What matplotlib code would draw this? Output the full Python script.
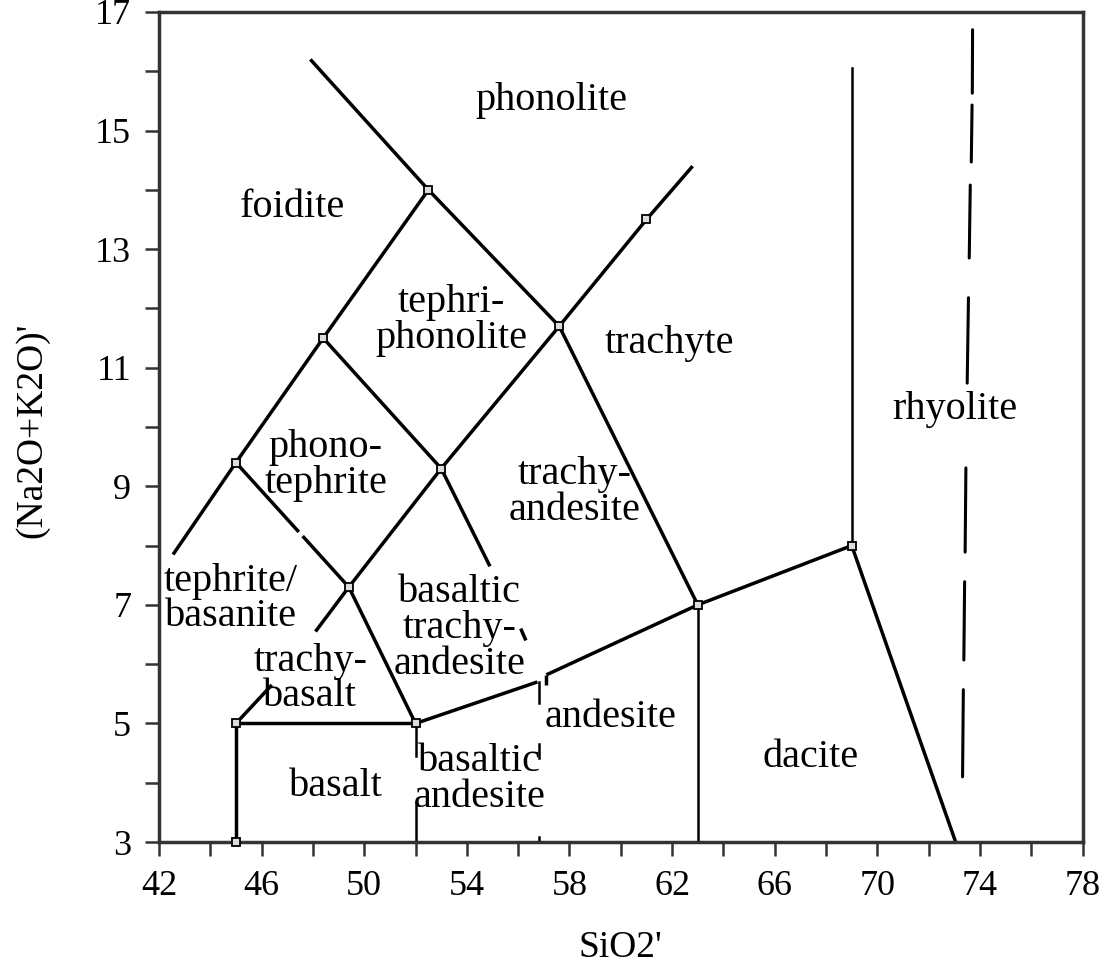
import numpy as np
import matplotlib.pyplot as plt

plt.rcParams['font.family'] = ['Liberation Serif', 'DejaVu Serif']

# boundary lines of the TAS diagram, (SiO2', Na2O+K2O')
foid_phon_x = [47.9, 52.5, 57.6, 63.0]
foid_phon_y = [16.2, 14.0, 11.7, 7.0]
foid_left_x = [52.5, 48.4, 45.0, 42.55]
foid_left_y = [14.0, 11.5, 9.4, 7.85]
tp_pt_x = [48.4, 53.0, 54.9]
tp_pt_y = [11.5, 9.3, 7.65]
bta_tick_x = [56.1, 56.3]
bta_tick_y = [6.6, 6.4]
trachy_x = [62.8, 61.0, 57.6, 53.0, 49.4, 48.1]
trachy_y = [14.4, 13.5, 11.7, 9.3, 7.3, 6.55]
tb_x = [46.4, 45.0]
tb_y = [5.65, 5.0]
pt_tb_a_x = [45.0, 47.45]
pt_tb_a_y = [9.4, 8.23]
pt_tb_b_x = [47.6, 49.4, 52.0]
pt_tb_b_y = [8.16, 7.3, 5.0]
basalt_x = [45.0, 45.0, 52.0]
basalt_y = [3.0, 5.0, 5.0]
v52_segs = [(5.0, 4.45), (3.67, 3.0)]
ba_top_x = [52.0, 56.75]
ba_top_y = [5.0, 5.7]
v57_segs = [(5.7, 5.35), (4.65, 4.42), (3.08, 3.0)]
and_top_x = [57.1, 63.0, 69.0]
and_top_y = [5.82, 7.0, 8.0]
and_tick_x = [57.1, 57.1]
and_tick_y = [5.82, 5.65]
v63_x = [63.0, 63.0]
v63_y = [7.0, 3.0]
v69_x = [69.0, 69.0]
v69_y = [16.05, 8.0]
dacite_x = [69.0, 73.05]
dacite_y = [8.0, 3.0]

# rhyolite dashed boundary: (x_top, y_top, x_bottom, y_bottom)
rhy_dashes = [(73.71, 16.70, 73.70, 15.63), (73.69, 15.43, 73.66, 14.47),
              (73.62, 14.08, 73.58, 12.85), (73.55, 12.18, 73.50, 10.74),
              (73.45, 9.31, 73.42, 7.89), (73.40, 7.39, 73.37, 6.07),
              (73.35, 5.57, 73.32, 4.10)]

# corner points
pts_x = [45.0, 45.0, 52.0, 63.0, 69.0, 49.4, 45.0, 53.0, 48.4, 52.5, 57.6, 61.0]
pts_y = [3.0, 5.0, 5.0, 7.0, 8.0, 7.3, 9.4, 9.3, 11.5, 14.0, 11.7, 13.5]

# field names
labels = ['phonolite', 'foidite', 'tephri-\nphonolite', 'trachyte', 'rhyolite',
          'phono-\ntephrite', 'trachy-\nandesite', 'tephrite/\nbasanite',
          'basaltic\ntrachy-\nandesite', 'trachy-\nbasalt', 'andesite', 'dacite',
          'basalt', 'basaltic\nandesite']
label_x = [57.3, 47.2, 53.4, 61.9, 73.0, 48.5, 58.2, 44.8, 53.7, 47.9, 59.6, 67.4, 48.9, 54.5]
label_y = [15.5, 13.7, 11.8, 11.4, 10.3, 9.35, 8.9, 7.1, 6.6, 5.75, 5.1, 4.42, 3.93, 4.05]

xticks = np.arange(42, 79, 4)
yticks = np.arange(3, 18, 2)

fig = plt.figure(figsize=(11.07, 9.73), dpi=100)
ax = fig.add_axes([0.1436, 0.1346, 0.8344, 0.8531])

lw = 2.5
kw = dict(color='black', lw=lw, solid_capstyle='butt')
for xs, ys in [(foid_phon_x, foid_phon_y), (foid_left_x, foid_left_y),
               (tp_pt_x, tp_pt_y), (bta_tick_x, bta_tick_y),
               (trachy_x, trachy_y), (tb_x, tb_y),
               (pt_tb_a_x, pt_tb_a_y), (pt_tb_b_x, pt_tb_b_y),
               (basalt_x, basalt_y), (ba_top_x, ba_top_y),
               (and_top_x, and_top_y), (and_tick_x, and_tick_y),
               (dacite_x, dacite_y)]:
    ax.plot(xs, ys, **kw)
ax.plot(v63_x, v63_y, color='black', lw=1.8)
ax.plot(v69_x, v69_y, color='black', lw=1.8)
for y0, y1 in v52_segs:
    ax.plot([52.0, 52.0], [y0, y1], color='black', lw=1.8)
for y0, y1 in v57_segs:
    ax.plot([56.8, 56.8], [y0, y1], color='black', lw=1.8)
for x0, y0, x1, y1 in rhy_dashes:
    ax.plot([x0, x1], [y0, y1], color='black', lw=2.2, solid_capstyle='round')

ax.plot(pts_x, pts_y, 's', ms=6, mfc='#dddddd', mec='black', mew=1.3,
        ls='none', clip_on=False, zorder=5)

for t, x, y in zip(labels, label_x, label_y):
    ax.text(x, y, t, ha='center', va='center', fontsize=29, linespacing=0.95)

ax.set_xlim(42, 78)
ax.set_ylim(3, 17)
ax.set_xticks(xticks)
ax.set_xticks(np.arange(42, 79, 2), minor=True)
ax.set_yticks(yticks)
ax.set_yticks(np.arange(3, 18, 1), minor=True)
ax.tick_params(which='both', direction='out', length=10, width=1.8, color='#333333')
ax.tick_params(axis='x', labelsize=26, pad=10)
ax.tick_params(axis='y', labelsize=26, pad=10)
for s in ax.spines.values():
    s.set_linewidth(2.5)
    s.set_color('#333333')

fig.text(0.56, 1 - 948 / 973, "SiO2'", ha='center', va='center', fontsize=27)
fig.text(32 / 1107, 1 - 430 / 973, "(Na2O+K2O)'", ha='center', va='center',
         rotation=90, fontsize=27)

fig.savefig('out.png', dpi=100)
